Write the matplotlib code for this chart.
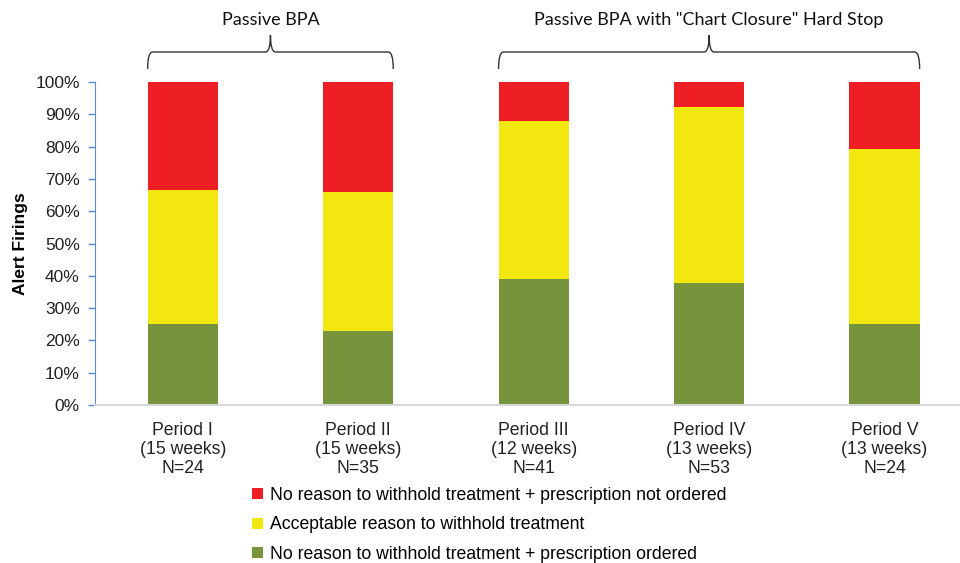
import matplotlib
matplotlib.use("Agg")
import matplotlib.pyplot as plt
from matplotlib.path import Path
from matplotlib.patches import PathPatch
from matplotlib.transforms import blended_transform_factory
import numpy as np

# data (share of alert firings per period)
periods = ["Period I\n(15 weeks)\nN=24", "Period II\n(15 weeks)\nN=35",
           "Period III\n(12 weeks)\nN=41", "Period IV\n(13 weeks)\nN=53",
           "Period V\n(13 weeks)\nN=24"]
rx_ordered = [0.250, 0.229, 0.390, 0.377, 0.250]
acceptable = [0.417, 0.429, 0.488, 0.547, 0.542]
not_ordered = [0.333, 0.343, 0.122, 0.075, 0.208]

labels = ["No reason to withhold treatment + prescription ordered",
          "Acceptable reason to withhold treatment",
          "No reason to withhold treatment + prescription not ordered"]
colors = ["#77933C", "#F2E70F", "#ED1F24"]

groups = ["Passive BPA", 'Passive BPA with "Chart Closure" Hard Stop']
group_span = [(0, 1), (2, 4)]

plt.rcParams["font.family"] = ["Liberation Sans", "DejaVu Sans"]

fig = plt.figure(figsize=(9.6, 5.63), dpi=100)
ax = fig.add_axes([95/960, 1-405/563, 1-95/960, (405-82)/563])

x = np.arange(len(periods))
w = 0.4
b1 = ax.bar(x, rx_ordered, w, color=colors[0], label=labels[0])
b2 = ax.bar(x, acceptable, w, bottom=rx_ordered, color=colors[1], label=labels[1])
bot = np.array(rx_ordered) + np.array(acceptable)
b3 = ax.bar(x, not_ordered, w, bottom=bot, color=colors[2], label=labels[2])

ax.set_xlim(-0.5, 4.43)
ax.set_ylim(0, 1)
ax.set_yticks(np.arange(0, 1.01, 0.1))
ax.set_yticklabels([f"{int(round(v*100))}%" for v in np.arange(0, 1.01, 0.1)])
ax.set_xticks(x)
ax.set_xticklabels(periods, fontsize=12.7, linespacing=1.15)
ax.tick_params(axis="x", length=0, pad=12, colors="#222222")
ax.tick_params(axis="y", length=5, width=1, color="#5B8BD0", labelsize=12.5, pad=6,
               labelcolor="#222222")
for s in ["top", "right"]:
    ax.spines[s].set_visible(False)
ax.spines["left"].set_color("#5B8BD0")
ax.spines["bottom"].set_color("#D9D9D9")
ax.spines["bottom"].set_linewidth(1.5)
ax.set_ylabel("Alert Firings", fontsize=12.5, fontweight="bold", labelpad=5)

# curly brackets above the groups
tr = blended_transform_factory(ax.transData, fig.transFigure)
dx = 5 / 175.5
def fy(py):
    return 1 - py / 563
for name, (a, b) in zip(groups, group_span):
    x0, x1 = a - w/2, b + w/2
    xm = (x0 + x1) / 2
    verts = [(x0, fy(69)), (x0, fy(52)), (x0 + dx, fy(52)),
             (xm - dx, fy(52)),
             (xm, fy(52)), (xm, fy(35)),
             (xm, fy(52)), (xm + dx, fy(52)),
             (x1 - dx, fy(52)),
             (x1, fy(52)), (x1, fy(69))]
    codes = [Path.MOVETO, Path.CURVE3, Path.CURVE3, Path.LINETO,
             Path.CURVE3, Path.CURVE3, Path.CURVE3, Path.CURVE3,
             Path.LINETO, Path.CURVE3, Path.CURVE3]
    fig.add_artist(PathPatch(Path(verts, codes), transform=tr, fill=False,
                             edgecolor="#333333", lw=1))
    fig.text(xm, fy(20), name, transform=tr, ha="center", va="center",
             fontsize=13, family=["Lato", "DejaVu Sans"], color="#111111")

handles = [b3, b2, b1]
fig.legend(handles, [labels[2], labels[1], labels[0]], loc="upper left",
           bbox_to_anchor=(245/960, 1-480/563), frameon=False, fontsize=12.7,
           handlelength=0.6, handleheight=0.6, handletextpad=0.4,
           labelspacing=0.7, borderaxespad=0)

fig.savefig("out.png", dpi=100)
